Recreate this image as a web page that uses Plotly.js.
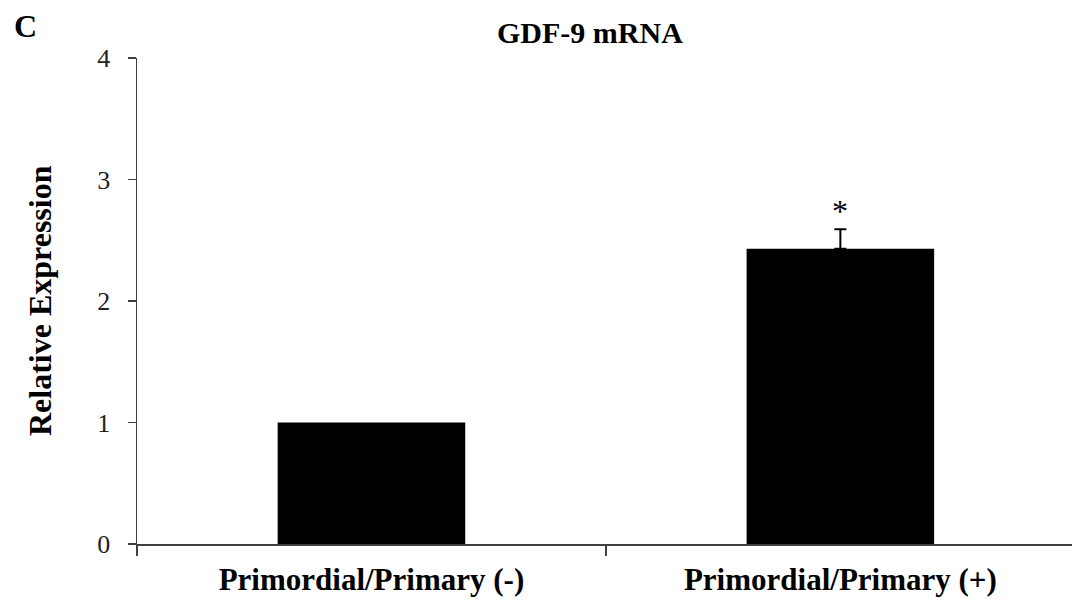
<!DOCTYPE html>
<html>
<head>
<meta charset="utf-8">
<script src="https://cdn.plot.ly/plotly-3.0.1.min.js"></script>
<style>html,body{margin:0;padding:0;background:#fff;}#chart{width:1072px;height:608px;}</style>
</head>
<body>
<div id="chart"></div>
<script>
const categories = ["Primordial/Primary (-)", "Primordial/Primary (+)"];
const values = [1.0, 2.43];
const errors = [null, 0.16];
const significance = ["", "*"];
const yTicks = [0, 1, 2, 3, 4];

const serif = "Liberation Serif, Times New Roman, serif";

const barTrace = {
  type: "bar",
  x: categories,
  y: values,
  width: 0.4,
  marker: {color: "#000000", line: {color: "#000000", width: 0}},
  hoverinfo: "skip"
};

const withErr = categories.map((c, i) => i).filter(i => errors[i] != null);
const errTrace = {
  type: "scatter",
  mode: "markers",
  x: withErr.map(i => categories[i]),
  y: withErr.map(i => values[i]),
  marker: {size: 1, opacity: 0},
  error_y: {type: "data", array: withErr.map(i => errors[i]), symmetric: false, arrayminus: withErr.map(() => 0), visible: true, color: "#000000", thickness: 2, width: 6},
  hoverinfo: "skip"
};

const annotations = [
  {text: "<b>C</b>", xref: "paper", yref: "paper", x: -0.134, y: 1.066, xanchor: "left", yanchor: "middle", showarrow: false, font: {family: serif, size: 32, color: "#000"}},
  {text: "<b>GDF-9 mRNA</b>", xref: "paper", yref: "paper", x: 0.4845, y: 1.052, xanchor: "center", yanchor: "middle", showarrow: false, font: {family: serif, size: 30, color: "#000"}},
  {text: "<b>Relative Expression</b>", xref: "paper", yref: "paper", x: -0.1037, y: 0.5, xanchor: "center", yanchor: "middle", textangle: -90, showarrow: false, font: {family: serif, size: 32, color: "#000"}}
];
categories.forEach((c, i) => {
  if (significance[i]) {
    annotations.push({text: significance[i], x: c, y: values[i] + (errors[i] || 0), xref: "x", yref: "y", yshift: 18, showarrow: false, yanchor: "middle", font: {family: serif, size: 32, color: "#000"}});
  }
});

const layout = {
  width: 1072, height: 608,
  margin: {l: 137, r: 0, t: 58, b: 64},
  paper_bgcolor: "#fff", plot_bgcolor: "#fff",
  showlegend: false,
  xaxis: {
    type: "category",
    range: [-0.5, 1.494],
    tickson: "boundaries",
    ticks: "outside", ticklen: 10, tickwidth: 1.5, tickcolor: "#404040",
    showline: true, linecolor: "#404040", linewidth: 1.5,
    showgrid: false, zeroline: false,
    tickfont: {family: serif, size: 31, color: "#000", weight: "bold"},
    ticklabelstandoff: 7
  },
  yaxis: {
    range: [0, 4],
    tickvals: yTicks,
    ticktext: yTicks.map(String),
    ticks: "outside", ticklen: 8, tickwidth: 1.5, tickcolor: "#404040",
    showline: true, linecolor: "#404040", linewidth: 1.5,
    showgrid: false, zeroline: false,
    tickfont: {family: serif, size: 26, color: "#222"},
    ticklabelstandoff: 12
  },
  annotations: annotations
};

Plotly.newPlot("chart", [barTrace, errTrace], layout, {displayModeBar: false, staticPlot: true});
</script>
</body>
</html>
